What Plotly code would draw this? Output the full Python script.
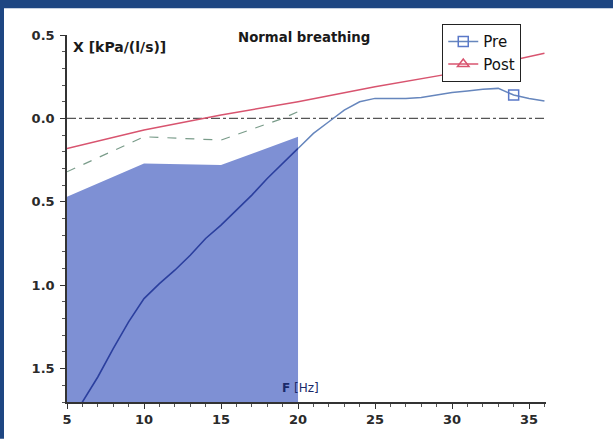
import plotly.graph_objects as go

# Reactance X (kPa/(l/s)) vs oscillation frequency F (Hz)
freq_pre = [5, 6, 7, 8, 9, 10, 11, 12, 13, 14, 15, 16, 17, 18, 19, 20,
            21, 22, 23, 24, 25, 26, 27, 28, 29, 30, 31, 32, 33, 34, 35, 36]
x_pre = [-1.85, -1.70, -1.55, -1.38, -1.22, -1.08, -0.99, -0.91, -0.82, -0.72,
         -0.64, -0.55, -0.46, -0.36, -0.27, -0.18, -0.09, -0.02, 0.05, 0.10,
         0.12, 0.12, 0.12, 0.125, 0.14, 0.155, 0.165, 0.175, 0.18, 0.14, 0.12, 0.105]

freq_post = [5, 10, 15, 20, 25, 30, 36]
x_post = [-0.18, -0.07, 0.02, 0.10, 0.19, 0.27, 0.39]

freq_ref = [5, 10, 15, 19, 20]
x_ref = [-0.32, -0.11, -0.13, 0.0, 0.04]

freq_band = [5, 10, 15, 20]
band_top = [-0.47, -0.27, -0.28, -0.11]

pre_marker_freq = [34]
pre_marker_x = [0.14]

y_ticks = [0.5, 0.0, -0.5, -1.0, -1.5]
y_tick_text = ["0.5", "0.0", "0.5", "1.0", "1.5"]
x_ticks = [5, 10, 15, 20, 25, 30, 35]

X_RANGE = [5, 36.1]
Y_RANGE = [-1.70, 0.5]

PRE_IN = "#2b3f9e"
PRE_OUT = "#6686bd"
POST = "#d8546f"
REF = "#7a9c8a"
BAND = "#7e90d4"
FRAME = "#1e4682"

fig = go.Figure()

# shaded band from the axis floor up to band_top
fig.add_trace(go.Scatter(x=freq_band, y=[Y_RANGE[0]] * len(freq_band), mode="lines",
                         line=dict(width=0, color=BAND), showlegend=False, hoverinfo="skip"))
fig.add_trace(go.Scatter(x=freq_band, y=band_top, mode="lines", fill="tonexty",
                         fillcolor=BAND, line=dict(width=0, color=BAND), showlegend=False))

# zero reference
fig.add_trace(go.Scatter(x=[X_RANGE[0], X_RANGE[1]], y=[0, 0], mode="lines",
                         line=dict(color="#555555", width=1.2, dash="dashdot"),
                         showlegend=False, hoverinfo="skip"))

fig.add_trace(go.Scatter(x=freq_ref, y=x_ref, mode="lines",
                         line=dict(color=REF, width=1.2, dash="dash"), showlegend=False))

fig.add_trace(go.Scatter(x=freq_post, y=x_post, mode="lines",
                         line=dict(color=POST, width=1.5), showlegend=False))

# Pre curve: darker where it runs over the band
n_in = freq_pre.index(20) + 1
fig.add_trace(go.Scatter(x=freq_pre[:n_in], y=x_pre[:n_in], mode="lines",
                         line=dict(color=PRE_IN, width=1.6), showlegend=False))
fig.add_trace(go.Scatter(x=freq_pre[n_in - 1:], y=x_pre[n_in - 1:], mode="lines",
                         line=dict(color=PRE_OUT, width=1.5), showlegend=False))
fig.add_trace(go.Scatter(x=pre_marker_freq, y=pre_marker_x, mode="markers",
                         marker=dict(symbol="square-open", size=10, color="#5a78c8",
                                     line=dict(width=1.5)), showlegend=False))

# legend entries
fig.add_trace(go.Scatter(x=[None], y=[None], mode="lines+markers", name="Pre",
                         line=dict(color=PRE_OUT, width=1.5),
                         marker=dict(symbol="square-open", size=10, color="#5a78c8",
                                     line=dict(width=1.5))))
fig.add_trace(go.Scatter(x=[None], y=[None], mode="lines+markers", name="Post",
                         line=dict(color=POST, width=1.5),
                         marker=dict(symbol="triangle-up-open", size=10, color=POST,
                                     line=dict(width=1.5))))

tick_font = dict(family="DejaVu Sans", size=13, color="#2a2a2a", weight="bold")

fig.update_layout(
    width=613, height=439,
    margin=dict(l=67, r=67, t=35, b=35),
    paper_bgcolor="white", plot_bgcolor="white",
    showlegend=True,
    legend=dict(x=0.783, y=1.03, xanchor="left", yanchor="top",
                bgcolor="white", bordercolor="#222222", borderwidth=1.2,
                font=dict(family="DejaVu Sans", size=15, color="#111111"),
                traceorder="normal", tracegroupgap=0, itemwidth=30),
    xaxis=dict(range=X_RANGE, tickvals=x_ticks, showgrid=False, zeroline=False,
               showline=True, linecolor="#333333", linewidth=1.5,
               ticks="outside", ticklen=5, tickcolor="#333333", tickwidth=1.2,
               minor=dict(dtick=1, tick0=5, ticks="outside", ticklen=3,
                          tickcolor="#555555", showgrid=False),
               tickfont=tick_font),
    yaxis=dict(range=Y_RANGE, tickvals=y_ticks, ticktext=y_tick_text,
               showgrid=False, zeroline=False,
               showline=True, linecolor="#333333", linewidth=1.5,
               ticks="outside", ticklen=5, tickcolor="#333333", tickwidth=1.2,
               minor=dict(dtick=0.1, tick0=0, ticks="outside", ticklen=3,
                          tickcolor="#555555", showgrid=False),
               tickfont=tick_font, ticklabelstandoff=3),
    annotations=[
        dict(text="<b>Normal breathing</b>", x=0.495, y=0.992, xref="paper", yref="paper",
             showarrow=False, xanchor="center", yanchor="middle",
             font=dict(family="DejaVu Sans", size=13.3, color="#1a1a1a")),
        dict(text="X [kPa/(l/s)]", x=0.008, y=0.967, xref="paper", yref="paper",
             showarrow=False, xanchor="left", yanchor="middle",
             font=dict(family="DejaVu Sans", size=14, color="#1a1a1a", weight=600)),
        dict(text="<b>F</b> [Hz]", x=0.445, y=0.038, xref="paper", yref="paper",
             showarrow=False, xanchor="left", yanchor="middle",
             font=dict(family="DejaVu Sans", size=12, color="#1a2a6a")),
    ],
    shapes=[
        # dark frame strips along the top and left edges
        dict(type="rect", xref="paper", yref="paper", x0=-0.14, x1=1.14,
             y0=1 + 27 / 369, y1=1 + 36 / 369, fillcolor=FRAME, line=dict(width=0),
             layer="below"),
        dict(type="rect", xref="paper", yref="paper", x0=-68 / 479, x1=-63 / 479,
             y0=-0.1, y1=1.1, fillcolor=FRAME, line=dict(width=0), layer="below"),
    ],
)

fig.write_html("out.html")
